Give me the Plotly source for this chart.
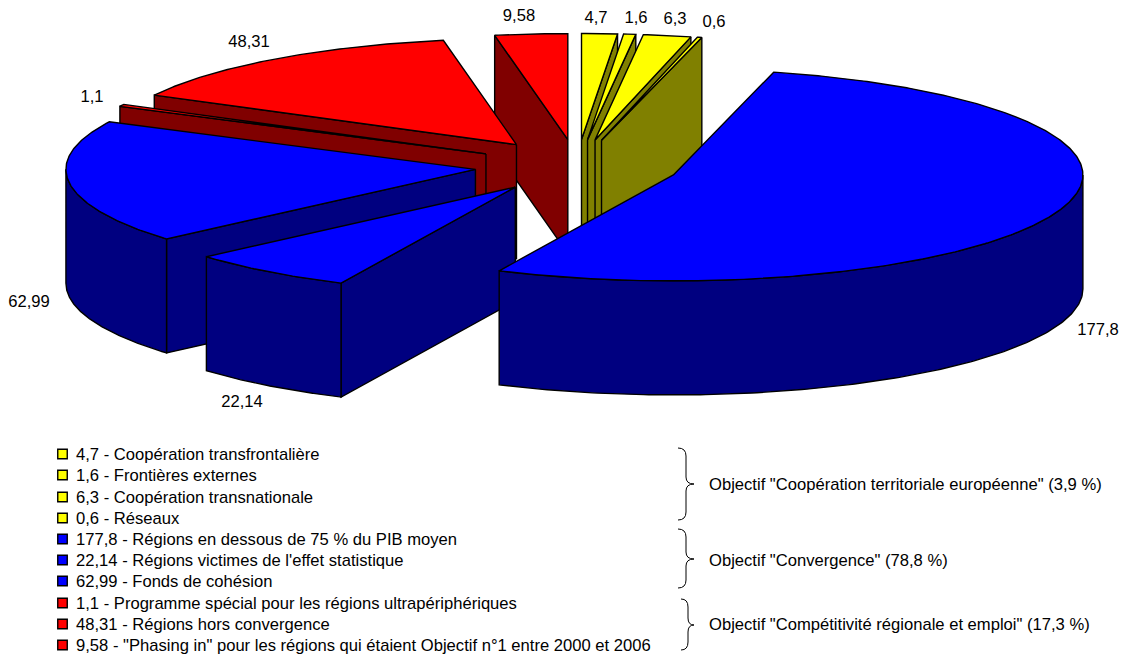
import numpy as np
import plotly.graph_objects as go

# Budget lines, clockwise from twelve o'clock (billions of euros)
values = [4.7, 1.6, 6.3, 0.6, 177.8, 22.14, 62.99, 1.1, 48.31, 9.58]
names = [
    "Coopération transfrontalière",
    "Frontières externes",
    "Coopération transnationale",
    "Réseaux",
    "Régions en dessous de 75 % du PIB moyen",
    "Régions victimes de l'effet statistique",
    "Fonds de cohésion",
    "Programme spécial pour les régions ultrapériphériques",
    "Régions hors convergence",
    '"Phasing in" pour les régions qui étaient Objectif n°1 entre 2000 et 2006',
]
families = ["y", "y", "y", "y", "b", "b", "b", "r", "r", "r"]
objectives = [
    'Objectif "Coopération territoriale européenne" (3,9 %)',
    'Objectif "Convergence" (78,8 %)',
    'Objectif "Compétitivité régionale et emploi" (17,3 %)',
]

# Styling and layout of the tilted pie
TOP = {"y": "#ffff00", "b": "#0000ff", "r": "#ff0000"}
SIDE = {"y": "#808000", "b": "#000080", "r": "#800000"}
CX, CY = 577.0, 166.0
RX, RY = 409.5, 106.0
DEPTH = 114.0
PULL = 0.25
PAINT_ORDER = [9, 8, 7, 6, 5, 0, 1, 2, 3, 4]
LABEL_XY = [(596, 19), (636, 19), (675, 20), (714, 23), (1098, 331),
            (242, 403), (29, 303), (92, 98), (249, 43), (519, 17)]
LEGEND_Y = [454, 475, 497, 518, 539, 560, 581, 603, 624, 645]
TEXT_NUDGE = 1.5
OBJECTIVE_Y = [484, 560, 624]
BRACES = [(678, 686, 694, 448, 484, 520), (678, 686, 694, 529, 559, 588), (681, 688, 694, 599, 625, 650)]
FONT = "Liberation Sans, Arial, sans-serif"
TEXT_SIZE = 16.6

fig = go.Figure()


def polygon(xs, ys, color):
    fig.add_trace(go.Scatter(
        x=xs, y=ys, mode="lines", fill="toself", fillcolor=color,
        line=dict(color="#000000", width=1.4), hoverinfo="skip", showlegend=False,
    ))


edges = np.radians(np.concatenate([[0], np.cumsum(values)]) / sum(values) * 360)

for i in PAINT_ORDER:
    a0, a1 = edges[i], edges[i + 1]
    mid = (a0 + a1) / 2
    tip_x = CX + PULL * RX * np.sin(mid)
    tip_y = CY - PULL * RY * np.cos(mid)
    top, side = TOP[families[i]], SIDE[families[i]]

    # Radial walls that face the viewer
    for a, visible in ((a0, np.sin(a0) < 0), (a1, np.sin(a1) > 0)):
        if visible:
            ex, ey = tip_x + RX * np.sin(a), tip_y - RY * np.cos(a)
            polygon([tip_x, ex, ex, tip_x, tip_x],
                    [tip_y, ey, ey + DEPTH, tip_y + DEPTH, tip_y], side)

    # Curved outer wall on the front half of the rim
    w0, w1 = max(a0, np.pi / 2), min(a1, 3 * np.pi / 2)
    if w1 > w0:
        t = np.linspace(w0, w1, 160)
        rim_x = tip_x + RX * np.sin(t)
        rim_y = tip_y - RY * np.cos(t)
        polygon(np.concatenate([rim_x, rim_x[::-1], rim_x[:1]]),
                np.concatenate([rim_y, rim_y[::-1] + DEPTH, rim_y[:1]]), side)

    # Top face
    t = np.linspace(a0, a1, max(4, int(np.degrees(a1 - a0) * 2)))
    polygon(np.concatenate([[tip_x], tip_x + RX * np.sin(t), [tip_x]]),
            np.concatenate([[tip_y], tip_y - RY * np.cos(t), [tip_y]]), top)

# Value labels around the pie
fig.add_trace(go.Scatter(
    x=[p[0] for p in LABEL_XY], y=[p[1] for p in LABEL_XY],
    mode="text", text=[str(v).replace(".", ",") for v in values],
    textposition="middle center", cliponaxis=False,
    textfont=dict(family=FONT, size=TEXT_SIZE, color="#000000"),
    hoverinfo="skip", showlegend=False,
))

# Legend swatches and entries
fig.add_trace(go.Scatter(
    x=[62.5] * len(values), y=LEGEND_Y, mode="markers",
    marker=dict(symbol="square", size=9.5, color=[TOP[f] for f in families],
                line=dict(color="#000000", width=1.4)),
    hoverinfo="skip", showlegend=False,
))
fig.add_trace(go.Scatter(
    x=[76] * len(values), y=[y + TEXT_NUDGE for y in LEGEND_Y], mode="text",
    text=[f"{str(v).replace('.', ',')} - {n}" for v, n in zip(values, names)],
    textposition="middle right", cliponaxis=False,
    textfont=dict(family=FONT, size=TEXT_SIZE, color="#000000"),
    hoverinfo="skip", showlegend=False,
))

# Objective captions
fig.add_trace(go.Scatter(
    x=[709] * len(objectives), y=[y + TEXT_NUDGE for y in OBJECTIVE_Y], mode="text",
    text=objectives, textposition="middle right", cliponaxis=False,
    textfont=dict(family=FONT, size=TEXT_SIZE, color="#000000"),
    hoverinfo="skip", showlegend=False,
))

# Braces tying legend groups to their objective
shapes = []
for x0, xb, xt, y0, ym, y1 in BRACES:
    path = (f"M {x0} {y0} Q {xb} {y0} {xb} {y0 + 8} L {xb} {ym - 7} "
            f"Q {xb} {ym} {xt} {ym} Q {xb} {ym} {xb} {ym + 7} L {xb} {y1 - 8} "
            f"Q {xb} {y1} {x0} {y1}")
    shapes.append(dict(type="path", path=path, xref="x", yref="y",
                       line=dict(color="#000000", width=1)))

fig.update_layout(
    width=1122, height=654,
    margin=dict(l=0, r=0, t=0, b=0),
    paper_bgcolor="#ffffff", plot_bgcolor="#ffffff",
    showlegend=False, shapes=shapes,
    xaxis=dict(range=[0, 1122], visible=False, fixedrange=True),
    yaxis=dict(range=[654, 0], visible=False, fixedrange=True),
)

fig.write_html("out.html", config={"displayModeBar": False})
